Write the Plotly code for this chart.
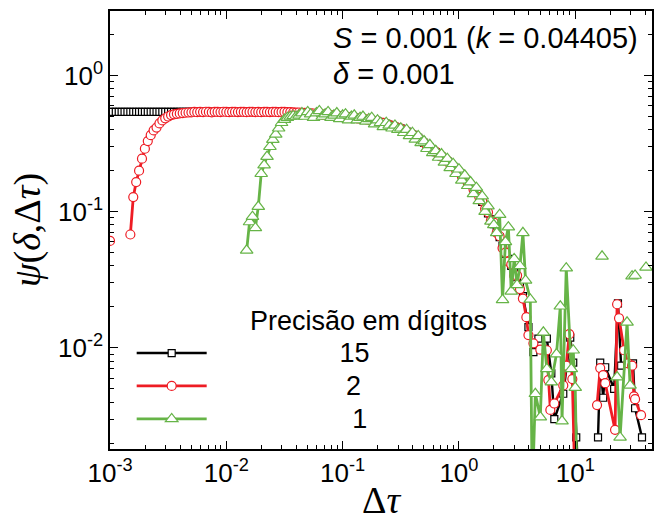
import plotly.graph_objects as go

# ---------------- data ----------------
# common log-spaced grid of delta-tau for the smooth part
dtau_grid = [
    0.001, 0.001059, 0.001122, 0.001189, 0.001259, 0.001334, 0.001413, 0.001496, 0.001585, 0.001679,
    0.001778, 0.001884, 0.001995, 0.002113, 0.002239, 0.002371, 0.002512, 0.002661, 0.002818, 0.002985,
    0.003162, 0.00335, 0.003548, 0.003758, 0.003981, 0.004217, 0.004467, 0.004732, 0.005012, 0.005309,
    0.005623, 0.005957, 0.00631, 0.006683, 0.007079, 0.007499, 0.007943, 0.008414, 0.008913, 0.009441,
    0.01, 0.01059, 0.01122, 0.01189, 0.01259, 0.01334, 0.01413, 0.01496, 0.01585, 0.01679,
    0.01778, 0.01884, 0.01995, 0.02113, 0.02239, 0.02371, 0.02512, 0.02661, 0.02818, 0.02985,
    0.03162, 0.0335, 0.03548, 0.03758, 0.03981, 0.04217, 0.04467, 0.04732, 0.05012, 0.05309,
    0.05623, 0.05957, 0.0631, 0.06683, 0.07079, 0.07499, 0.07943, 0.08414, 0.08913, 0.09441,
    0.1, 0.1059, 0.1122, 0.1189, 0.1259, 0.1334, 0.1413, 0.1496, 0.1585, 0.1679,
    0.1778, 0.1884, 0.1995, 0.2113, 0.2239, 0.2371, 0.2512, 0.2661, 0.2818, 0.2985,
    0.3162, 0.335, 0.3548, 0.3758, 0.3981, 0.4217, 0.4467, 0.4732, 0.5012, 0.5309,
    0.5623, 0.5957, 0.631, 0.6683, 0.7079, 0.7499, 0.7943, 0.8414, 0.8913, 0.9441,
    1.0, 1.059, 1.122, 1.189, 1.259, 1.334, 1.413, 1.496, 1.585, 1.679,
    1.778, 1.884, 1.995, 2.113, 2.239, 2.371, 2.512, 2.661, 2.818, 2.985,
    3.162, 3.35, 3.548,
]

# 15 digits (black squares)
psi_15_head = [
    0.54, 0.54, 0.54, 0.54, 0.54, 0.54, 0.54, 0.54, 0.54, 0.54,
    0.54, 0.54, 0.54, 0.54, 0.54, 0.54, 0.54, 0.54, 0.54, 0.54,
    0.54, 0.54, 0.54, 0.54, 0.54, 0.54, 0.54, 0.54, 0.54, 0.54,
    0.54, 0.54, 0.54, 0.54, 0.54, 0.54, 0.54, 0.54, 0.54, 0.54,
    0.54, 0.54, 0.54, 0.54, 0.54, 0.54, 0.54, 0.54, 0.54, 0.54,
    0.54, 0.54, 0.54, 0.54, 0.54, 0.54, 0.54, 0.54, 0.54, 0.54,
    0.540, 0.539, 0.538, 0.536, 0.535, 0.534, 0.532, 0.531, 0.530, 0.528,
    0.525, 0.523, 0.520, 0.518, 0.515, 0.513, 0.510, 0.508, 0.505, 0.503,
    0.500, 0.497, 0.494, 0.491, 0.488, 0.485, 0.482, 0.479, 0.476, 0.473,
    0.470, 0.464, 0.459, 0.453, 0.448, 0.441, 0.434, 0.427, 0.420, 0.414,
    0.407, 0.397, 0.388, 0.378, 0.369, 0.360, 0.348, 0.334, 0.320, 0.307,
    0.295, 0.285, 0.274, 0.264, 0.254, 0.244, 0.235, 0.224, 0.214, 0.204,
    0.195, 0.185, 0.175, 0.166, 0.157, 0.148, 0.140, 0.130, 0.118, 0.108,
    0.097, 0.088, 0.081, 0.072, 0.065, 0.056, 0.049, 0.045, 0.040, 0.036,
    0.033, 0.029, 0.024,
]
dtau_15_tail = [3.96, 4.37, 4.82, 5.70, 6.23, 6.61, 7.89, 9.06, 9.61, 10.2, 10.8, 12.5,
                15.7, 16.4, 17.4, 18.1, 21.6, 23.3, 24.8, 31.4, 32.7, 37.5]
psi_15_tail = [0.0142, 0.0093, 0.0117, 0.0117, 0.0065, 0.0030, 0.0046, 0.0119, 0.0078, 0.0022, 0.0008, None,
               0.0022, 0.0078, 0.0043, 0.0072, 0.0050, 0.0212, 0.0074, 0.0077, 0.0036, 0.0022]

# 2 digits (red circles)
psi_2_head = [
    0.061, None, None, None, None, None, None, 0.068, 0.128, 0.165,
    0.200, 0.245, 0.290, 0.330, 0.365, 0.395, 0.415, 0.445, 0.468, 0.485,
    0.500, 0.512, 0.519, 0.523, 0.527, 0.530, 0.533, 0.535, 0.537, 0.540,
    0.538, 0.541, 0.539, 0.542, 0.540, 0.537, 0.541, 0.540, 0.539, 0.542,
    0.540, 0.538, 0.541, 0.540, 0.539, 0.541, 0.540, 0.538, 0.540, 0.541,
    0.539, 0.540, 0.538, 0.541, 0.540, 0.539, 0.541, 0.540, 0.538, 0.540,
    0.540, 0.538, 0.539, 0.536, 0.534, 0.535, 0.531, 0.532, 0.529, 0.528,
    0.526, 0.522, 0.521, 0.517, 0.516, 0.512, 0.511, 0.507, 0.506, 0.502,
    0.501, 0.496, 0.495, 0.490, 0.489, 0.484, 0.483, 0.478, 0.477, 0.472,
    0.471, 0.463, 0.460, 0.452, 0.449, 0.440, 0.435, 0.426, 0.421, 0.413,
    0.408, 0.396, 0.389, 0.377, 0.370, 0.358, 0.349, 0.333, 0.322, 0.305,
    0.297, 0.283, 0.276, 0.262, 0.256, 0.242, 0.237, 0.222, 0.216, 0.202,
    0.197, 0.183, 0.177, 0.164, 0.159, 0.146, 0.142, 0.128, 0.120, 0.105,
    0.099, 0.086, 0.083, 0.070, 0.066, 0.054, 0.050, 0.043, 0.041, 0.034,
    0.034, 0.027, 0.023,
]
dtau_2_tail = [3.80, 3.96, 4.37, 5.01, 5.70, 5.87, 6.11, 6.61, 7.89, 8.37, 8.89, 9.44, 10.0, 12.5,
               15.4, 16.4, 17.4, 18.1, 22.0, 22.9, 23.8, 26.3, 28.4, 30.8, 32.0, 32.7, 36.8]
psi_2_tail = [0.0168, 0.0124, 0.0108, 0.0097, 0.0096, 0.0058, 0.0035, 0.0039, 0.0053, 0.0074, 0.0126, 0.0059,
              0.0008, None,
              0.0038, 0.0071, 0.0063, 0.0055, 0.0025, 0.0209, 0.0165, 0.0096, 0.0077, 0.0074, 0.0044, 0.0042,
              0.0032]

# 1 digit (green triangles)
psi_1_head = [
    None, None, None, None, None, None, None, None, None, None,
    None, None, None, None, None, None, None, None, None, None,
    None, None, None, None, None, None, None, None, None, None,
    None, None, None, None, None, None, None, None, None, None,
    None, None, None, None, None, None, None, 0.052, 0.084, 0.092,
    0.076, 0.109, 0.190, 0.220, 0.254, 0.300, 0.338, 0.370, 0.410, 0.450,
    0.475, 0.490, 0.500, 0.505, 0.500, 0.510, 0.530, 0.500, 0.540, 0.520,
    0.490, 0.530, 0.550, 0.500, 0.520, 0.540, 0.490, 0.510, 0.530, 0.480,
    0.510, 0.520, 0.470, 0.500, 0.510, 0.470, 0.490, 0.500, 0.460, 0.480,
    0.490, 0.440, 0.470, 0.450, 0.420, 0.450, 0.430, 0.410, 0.430, 0.400,
    0.410, 0.380, 0.400, 0.360, 0.380, 0.340, 0.360, 0.320, 0.330, 0.290,
    0.310, 0.270, 0.280, 0.250, 0.265, 0.230, 0.245, 0.210, 0.225, 0.190,
    0.205, 0.170, 0.185, 0.155, 0.165, 0.135, 0.150, 0.120, 0.130, 0.100,
    0.110, 0.085, 0.080, 0.070, 0.095, 0.0225, 0.060, 0.077, 0.026, 0.045,
    0.029, 0.040, 0.070,
]
dtau_1_tail = [3.74, 4.11, 4.27, 4.54, 5.01, 5.32, 5.70, 6.23, 6.90, 7.44, 7.70, 8.37, 9.25, 9.61, 10.0, 10.4,
               12.5, 17.0, 20.0, 22.9, 24.3, 27.9, 29.6, 30.2, 30.8, 31.7, 32.7, 36.0, 40.6]
psi_1_tail = [0.0313, 0.0227, 0.0008, 0.0046, 0.0031, 0.0130, 0.0070, 0.0056, 0.0090, 0.0202, 0.0029, 0.0385,
              0.0070, 0.0096, 0.0051, 0.0008,
              None, 0.047, None, 0.0061, 0.0022, 0.0154, 0.0053, None, 0.0336, None, 0.034, None, 0.039]

series_names = ["15", "2", "1"]
legend_title = "Precisão em dígitos"
x_tick_vals = [0.001, 0.01, 0.1, 1, 10]
x_tick_text = ["10<sup>-3</sup>", "10<sup>-2</sup>", "10<sup>-1</sup>", "10<sup>0</sup>", "10<sup>1</sup>"]
y_tick_vals = [0.01, 0.1, 1]
y_tick_text = ["10<sup>-2</sup>", "10<sup>-1</sup>", "10<sup>0</sup>"]
x_minor_vals = [m * d for d in (0.001, 0.01, 0.1, 1, 10) for m in range(2, 10) if m * d < 46]
y_minor_vals = [m * d for d in (0.001, 0.01, 0.1, 1) for m in range(2, 10) if 0.0018 < m * d < 2.9]

assert len(dtau_grid) == len(psi_15_head) == len(psi_2_head) == len(psi_1_head), (
    len(dtau_grid), len(psi_15_head), len(psi_2_head), len(psi_1_head))
assert len(dtau_15_tail) == len(psi_15_tail)
assert len(dtau_2_tail) == len(psi_2_tail)
assert len(dtau_1_tail) == len(psi_1_tail)

series = [
    (series_names[0], dtau_grid + dtau_15_tail, psi_15_head + psi_15_tail, "#000000", "square", 7, 2.4),
    (series_names[1], dtau_grid + dtau_2_tail, psi_2_head + psi_2_tail, "#ee1c24", "circle", 9, 2.8),
    (series_names[2], dtau_grid + dtau_1_tail, psi_1_head + psi_1_tail, "#66b447", "triangle-up", 11, 2.8),
]
label_pad = {"15": 20, "2": 21, "1": 22}

fig = go.Figure()
for name, xs, ys, color, symbol, size, lw in series:
    label = "\u00a0" * label_pad[name] + "<span style='font-size:27px'>" + name + "</span>"
    fig.add_trace(go.Scatter(
        x=xs, y=ys, mode="lines+markers", name=label,
        connectgaps=False,
        line=dict(color=color, width=lw),
        marker=dict(symbol=symbol, size=size, color="white", line=dict(color=color, width=1.2)),
    ))

axis_common = dict(
    type="log", showgrid=False, zeroline=False,
    showline=True, linecolor="black", linewidth=1.5, mirror="allticks",
    ticks="inside", ticklen=8, tickwidth=1.3, tickcolor="black",
    tickfont=dict(family="Liberation Sans, Arial, sans-serif", size=26, color="black"),
    minor=dict(ticks="inside", ticklen=4.5, tickwidth=1.1, tickcolor="black", showgrid=False),
)

fig.update_layout(
    width=655, height=521,
    margin=dict(l=110, r=1, t=11, b=72),
    paper_bgcolor="white", plot_bgcolor="white",
    showlegend=True,
    legend=dict(
        x=0.04, y=0.268, xanchor="left", yanchor="top",
        bgcolor="rgba(0,0,0,0)", borderwidth=0, itemwidth=70,
        font=dict(family="Liberation Sans, Arial, sans-serif", size=23, color="black"),
        tracegroupgap=0,
    ),
    xaxis=dict(
        axis_common, range=[-3, 1.66],
        tickmode="array", tickvals=x_tick_vals, ticktext=x_tick_text,
        title=dict(text="Δ<i>τ</i>", font=dict(family="Liberation Serif, Times New Roman, serif", size=38, color="black"), standoff=4),
    ),
    yaxis=dict(
        axis_common, range=[-2.743, 0.474],
        tickmode="array", tickvals=y_tick_vals, ticktext=y_tick_text,
        title=dict(text="<i>ψ</i>(<i>δ</i>,Δ<i>τ</i>)", font=dict(family="Liberation Serif, Times New Roman, serif", size=38, color="black"), standoff=6),
    ),
    annotations=[
        dict(xref="paper", yref="paper", x=0.408, y=0.938, xanchor="left", yanchor="middle",
             text="<i>S</i> = 0.001 (<i>k</i> = 0.04405)", showarrow=False,
             font=dict(family="Liberation Sans, Arial, sans-serif", size=29, color="black")),
        dict(xref="paper", yref="paper", x=0.408, y=0.856, xanchor="left", yanchor="middle",
             text="<i>δ</i> = 0.001", showarrow=False,
             font=dict(family="Liberation Sans, Arial, sans-serif", size=29, color="black")),
        dict(xref="paper", yref="paper", x=0.254, y=0.292, xanchor="left", yanchor="middle",
             text=legend_title, showarrow=False,
             font=dict(family="Liberation Sans, Arial, sans-serif", size=27, color="black")),
    ],
)
fig.update_xaxes(minor=dict(tickmode="array", tickvals=x_minor_vals))
fig.update_yaxes(minor=dict(tickmode="array", tickvals=y_minor_vals))

fig.write_html("out.html")
